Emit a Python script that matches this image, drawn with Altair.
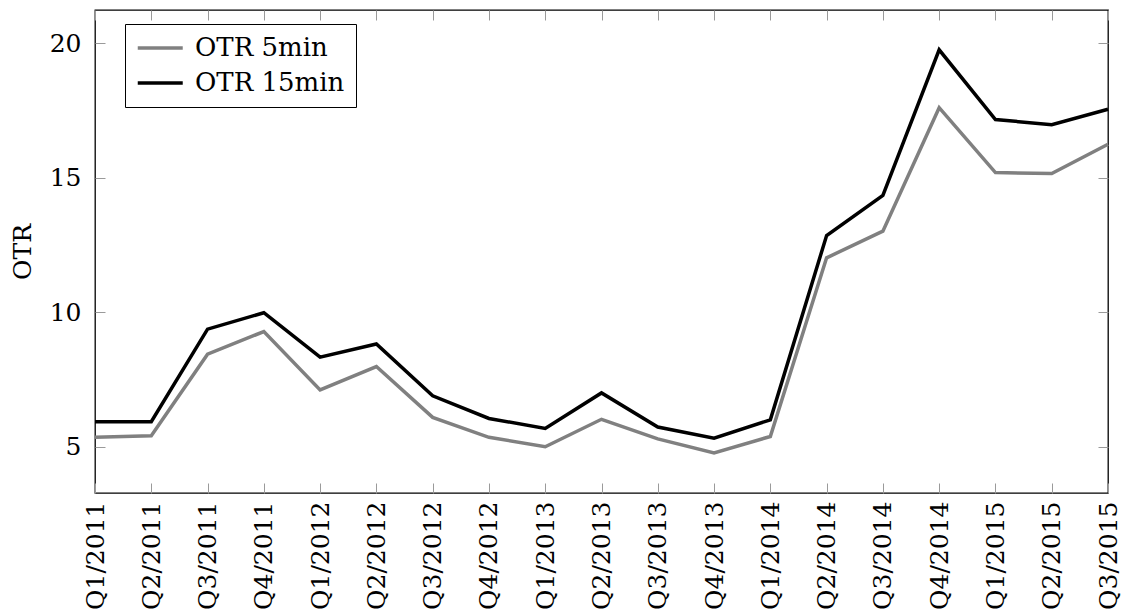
import altair as alt
import pandas as pd

quarters = ["Q1/2011", "Q2/2011", "Q3/2011", "Q4/2011",
            "Q1/2012", "Q2/2012", "Q3/2012", "Q4/2012",
            "Q1/2013", "Q2/2013", "Q3/2013", "Q4/2013",
            "Q1/2014", "Q2/2014", "Q3/2014", "Q4/2014",
            "Q1/2015", "Q2/2015", "Q3/2015"]
otr_5min = [5.35, 5.41, 8.44, 9.28, 7.11, 7.98, 6.09, 5.35, 5.00, 6.02,
            5.29, 4.77, 5.38, 12.02, 13.01, 17.60, 15.19, 15.15, 16.24]
otr_15min = [5.93, 5.93, 9.37, 9.98, 8.33, 8.82, 6.89, 6.05, 5.68, 7.00,
             5.73, 5.32, 6.00, 12.85, 14.34, 19.75, 17.16, 16.97, 17.54]
series_names = ["OTR 5min", "OTR 15min"]
series_colors = ["#808080", "#000000"]
y_ticks = [5, 10, 15, 20]
y_domain = [3.28, 21.23]

rows = []
for name, vals in zip(series_names, [otr_5min, otr_15min]):
    for i, (q, v) in enumerate(zip(quarters, vals)):
        rows.append({"quarter": q, "value": v, "series": name, "order": i})
df = pd.DataFrame(rows)

FONT = "DejaVu Serif"
FS = 25
LFS = 26
TICK = 10
TICK_COLOR = "#9a9a9a"

x_scale = alt.Scale(type="point", padding=0, domain=quarters)
y_scale = alt.Scale(domain=y_domain, nice=False, zero=False)

lines = alt.Chart(df).mark_line(strokeWidth=3.5, strokeJoin="miter", strokeCap="butt").encode(
    x=alt.X("quarter:N", sort=quarters, scale=x_scale,
            axis=alt.Axis(orient="bottom", title=None, labelAngle=270, labelAlign="right",
                          labelBaseline="middle", labelFont=FONT, labelFontSize=FS,
                          labelColor="black", labelPadding=8, offset=-TICK, tickSize=TICK,
                          tickColor=TICK_COLOR, tickWidth=1, domain=False, grid=False,
                          labelOverlap=False)),
    y=alt.Y("value:Q", scale=y_scale,
            axis=alt.Axis(orient="left", title="OTR", values=y_ticks, labelFont=FONT,
                          labelFontSize=FS, labelColor="black", labelPadding=14,
                          offset=-TICK, tickSize=TICK, tickColor=TICK_COLOR, tickWidth=1,
                          domain=False, grid=False, titleFont=FONT, titleFontSize=FS,
                          titleFontWeight="normal", titleColor="black", titlePadding=14)),
    color=alt.Color("series:N", sort=series_names,
                    scale=alt.Scale(domain=series_names, range=series_colors),
                    legend=alt.Legend(title=None, orient="none", legendX=30, legendY=14,
                                      symbolType="M-1,0L3,0", symbolSize=506,
                                      symbolStrokeWidth=3.5, labelFont=FONT,
                                      labelFontSize=LFS, labelColor="black",
                                      fillColor="white", strokeColor="black",
                                      padding=11, rowPadding=9, labelOffset=33,
                                      cornerRadius=0)),
    order="order:Q",
)

ticks = alt.Chart(df).mark_point(opacity=0).encode(
    x=alt.X("quarter:N", sort=quarters, scale=x_scale,
            axis=alt.Axis(orient="top", title=None, labels=False, offset=-TICK,
                          tickSize=TICK, tickColor=TICK_COLOR, tickWidth=1,
                          domain=False, grid=False)),
    y=alt.Y("value:Q", scale=y_scale,
            axis=alt.Axis(orient="right", title=None, labels=False, values=y_ticks,
                          offset=-TICK, tickSize=TICK, tickColor=TICK_COLOR, tickWidth=1,
                          domain=False, grid=False)),
)

chart = alt.layer(lines, ticks).resolve_axis(x="independent", y="independent").properties(
    width=1013, height=483,
    background="white",
    autosize=alt.AutoSizeParams(type="none"),
    padding={"left": 95, "top": 10, "right": 15, "bottom": 121},
).configure_view(stroke="black", strokeWidth=1.3)

chart.save("out.html", embed_options={"renderer": "svg", "actions": False})
